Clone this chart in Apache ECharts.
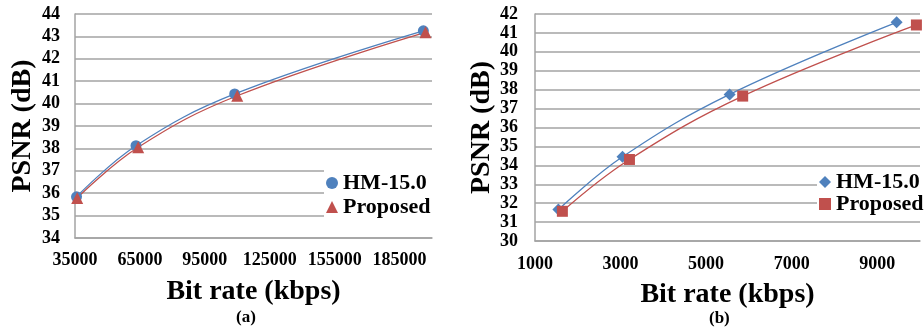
<!DOCTYPE html>
<html>
<head>
<meta charset="utf-8">
<script src="https://cdn.jsdelivr.net/npm/echarts@6/dist/echarts.min.js"></script>
<style>
html,body{margin:0;padding:0;background:#fff;}
#chart{width:924px;height:332px;}
</style>
</head>
<body>
<div id="chart"></div>
<script>
// ---- Data ----
const seriesNames = ['HM-15.0', 'Proposed'];

// Panel (a)
const aHMRate   = [35700, 63200, 108800, 196000];
const aHMPsnr   = [35.84, 38.12, 40.43, 43.25];
const aPropRate = [36000, 64200, 110000, 197000];
const aPropPsnr = [35.79, 38.05, 40.35, 43.18];
const aXTicks = { min: 35000, max: 200000, interval: 30000 };
const aYTicks = { min: 34, max: 44, interval: 1 };

// Panel (b)
const bHMRate   = [1546, 3045, 5550, 9454];
const bHMPsnr   = [31.66, 34.45, 37.75, 41.56];
const bPropRate = [1640, 3208, 5855, 9916];
const bPropPsnr = [31.57, 34.31, 37.66, 41.42];
const bXTicks = { min: 1000, max: 10000, interval: 2000 };
const bYTicks = { min: 30, max: 42, interval: 1 };

const xTitle = 'Bit rate (kbps)';
const yTitle = 'PSNR (dB)';
const captions = ['(a)', '(b)'];

// ---- Styling ----
const FONT = '"Liberation Serif", "Times New Roman", serif';
const BLUE = '#4F81BD';
const RED = '#C0504D';
const GRID = '#A3A3A3';

function pairs(xs, ys) { return xs.map((x, i) => [x, ys[i]]); }

function xAxisCfg(gridIndex, t, margin, gap) {
  return {
    type: 'value', gridIndex, min: t.min, max: t.max, interval: t.interval,
    name: xTitle, nameLocation: 'middle', nameGap: gap,
    nameTextStyle: { fontFamily: FONT, fontWeight: 'bold', fontSize: 28, color: '#000' },
    axisLine: { show: true, lineStyle: { color: GRID, width: 1.5 } },
    axisTick: { show: false },
    splitLine: { show: false },
    axisLabel: { fontFamily: FONT, fontWeight: 'bold', fontSize: 18, color: '#000',
                 margin: margin, showMaxLabel: false, showMinLabel: true,
                 formatter: v => String(v) }
  };
}
function yAxisCfg(gridIndex, t, margin) {
  return {
    type: 'value', gridIndex, min: t.min, max: t.max, interval: t.interval,
    name: yTitle, nameLocation: 'middle', nameGap: 38,
    nameTextStyle: { fontFamily: FONT, fontWeight: 'bold', fontSize: 28, color: '#000' },
    axisLine: { show: true, lineStyle: { color: GRID, width: 1.5 } },
    axisTick: { show: false },
    splitLine: { show: true, lineStyle: { color: GRID, width: 1.5 } },
    axisLabel: { fontFamily: FONT, fontWeight: 'bold', fontSize: 18, color: '#000', margin: margin }
  };
}
function line(name, data, xi, color, symbol, size) {
  return {
    type: 'line', name, xAxisIndex: xi, yAxisIndex: xi, data,
    smooth: 0.4, symbol, symbolSize: size, showSymbol: true,
    lineStyle: { color, width: 1.3 },
    itemStyle: { color },
    emphasis: { disabled: true },
    animation: false
  };
}
function legendCfg(left, top, icons, gap) {
  return {
    orient: 'vertical', left, top, padding: [2, 3, 2, 2],
    backgroundColor: '#fff', itemGap: gap, itemWidth: 12, itemHeight: 12,
    selectedMode: false,
    textStyle: { fontFamily: FONT, fontWeight: 'bold', fontSize: 22, color: '#000' },
    data: seriesNames.map((n, i) => ({ name: n, icon: icons[i] }))
  };
}

const chart = echarts.init(document.getElementById('chart'), null, { renderer: 'canvas' });
chart.setOption({
  animation: false,
  backgroundColor: '#fff',
  grid: [
    { left: 75, right: 492, top: 14, bottom: 94 },
    { left: 535, right: 4, top: 14, bottom: 91 }
  ],
  xAxis: [xAxisCfg(0, aXTicks, 13, 40), xAxisCfg(1, bXTicks, 14, 40)],
  yAxis: [yAxisCfg(0, aYTicks, 15), yAxisCfg(1, bYTicks, 17)],
  legend: [
    legendCfg(324, 170, ['circle', 'triangle'], 2),
    legendCfg(817, 169, ['diamond', 'rect'], 0)
  ],
  series: [
    line(seriesNames[0], pairs(aHMRate, aHMPsnr), 0, BLUE, 'circle', 11),
    line(seriesNames[1], pairs(aPropRate, aPropPsnr), 0, RED, 'triangle', 12),
    line(seriesNames[0], pairs(bHMRate, bHMPsnr), 1, BLUE, 'diamond', 12),
    line(seriesNames[1], pairs(bPropRate, bPropPsnr), 1, RED, 'rect', 11)
  ],
  graphic: [
    { type: 'text', left: 236, top: 309, style: { text: captions[0], font: 'bold 17px ' + FONT, fill: '#000' } },
    { type: 'text', left: 709, top: 310, style: { text: captions[1], font: 'bold 17px ' + FONT, fill: '#000' } }
  ]
});
</script>
</body>
</html>
